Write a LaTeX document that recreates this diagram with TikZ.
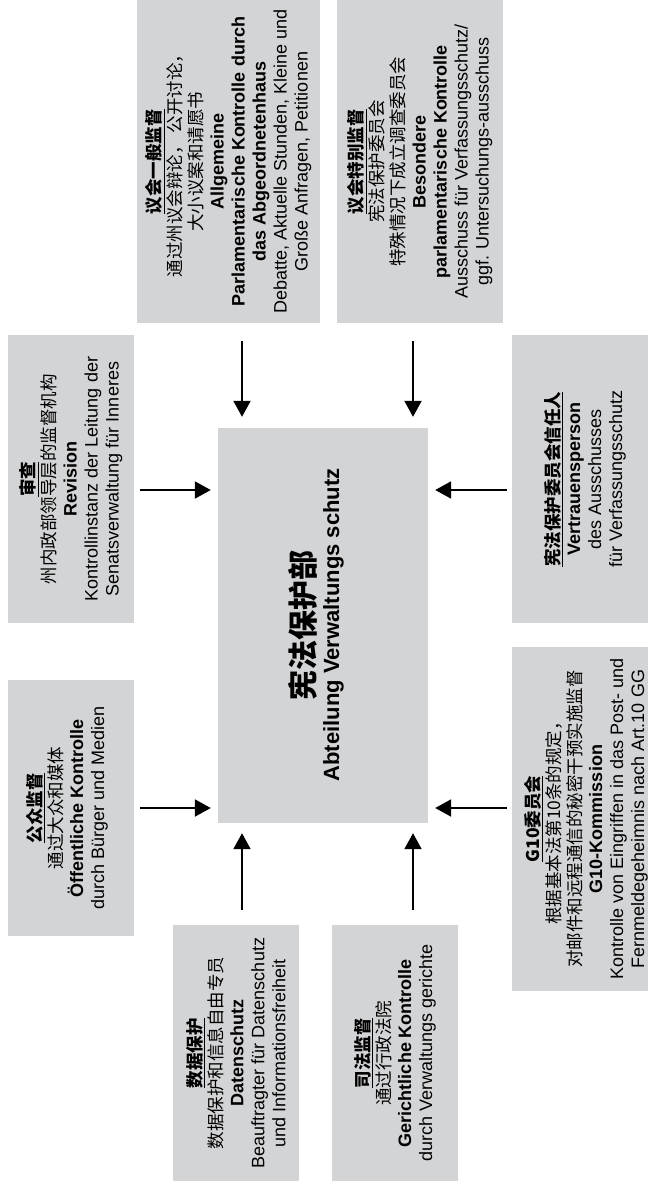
\documentclass[tikz,border=0pt]{standalone}
\usepackage{fontspec}
\setmainfont{Liberation Sans}
\newfontfamily\cjk{Noto Sans CJK SC}
\usetikzlibrary{arrows.meta}
\definecolor{boxgray}{RGB}{211,212,214}
\newcommand\zh[1]{{\cjk\fontsize{17.5}{21}\selectfont #1}}
\newcommand\zhh[1]{{\cjk\bfseries\fontsize{17.5}{21}\selectfont\underline{#1}}}
\newcommand\de[1]{{\bfseries #1}}
\begin{document}
\begin{tikzpicture}[x=1pt,y=-1pt,
  box/.style={fill=boxgray, draw=none, inner sep=0pt},
  lbl/.style={rotate=90, align=center, inner sep=0pt, font=\fontsize{18}{21}\selectfont},
  arr/.style={line width=2pt, -{Triangle[length=16pt,width=17pt]}}]
\useasboundingbox (0,0) rectangle (653,1184);
% boxes
\node[box, minimum width=183pt, minimum height=323pt] (allg) at (228.5,161.5) {};
\node[box, minimum width=166pt, minimum height=323pt] (bes) at (420,161.5) {};
\node[box, minimum width=126pt, minimum height=288pt] (rev) at (71,479) {};
\node[box, minimum width=136pt, minimum height=288pt] (ver) at (580,479) {};
\node[box, minimum width=126pt, minimum height=256pt] (oef) at (71,808) {};
\node[box, minimum width=136pt, minimum height=344pt] (g10) at (580,819) {};
\node[box, minimum width=126pt, minimum height=256pt] (dat) at (236,1053) {};
\node[box, minimum width=126pt, minimum height=256pt] (ger) at (395,1053) {};
\node[box, minimum width=210pt, minimum height=395pt] (ctr) at (323,625.5) {};
% labels
\node[lbl] (tallg) at (allg.center) {\zhh{议会一般监督}\\ \zh{通过州议会辩论， 公开讨论，}\\ \zh{大小议案和请愿书}\\ \de{Allgemeine}\\ \de{Parlamentarische Kontrolle durch}\\ \de{das Abgeordnetenhaus}\\ Debatte, Aktuelle Stunden, Kleine und\\ Große Anfragen, Petitionen};
\node[lbl] (tbes) at (bes.center) {\zhh{议会特别监督}\\ \zh{宪法保护委员会}\\ \zh{特殊情况下成立调查委员会}\\ \de{Besondere}\\ \de{parlamentarische Kontrolle}\\ Ausschuss für Verfassungsschutz/\\ ggf. Untersuchungs-ausschuss};
\node[lbl] (trev) at (rev.center) {\zhh{审查}\\ \zh{州内政部领导层的监督机构}\\ \de{Revision}\\ Kontrollinstanz der Leitung der\\ Senatsverwaltung für Inneres};
\node[lbl] (tver) at (585,479) {\zhh{宪法保护委员会信任人}\\ \de{Vertrauensperson}\\ des Ausschusses\\ für Verfassungsschutz};
\node[lbl] (toef) at (67,808) {\zhh{公众监督}\\ \zh{通过大众和媒体}\\ \de{Öffentliche Kontrolle}\\ durch Bürger und Medien};
\node[lbl] (tg10) at (586,819) {\zhh{G10委员会}\\ \zh{根据基本法第10条的规定，}\\ \zh{对邮件和远程通信的秘密干预实施监督}\\ \de{G10-Kommission}\\ Kontrolle von Eingriffen in das Post- und\\ Fernmeldegeheimnis nach Art.10 GG};
\node[lbl] (tdat) at (dat.center) {\zhh{数据保护}\\ \zh{数据保护和信息自由专员}\\ \de{Datenschutz}\\ Beauftragter für Datenschutz\\ und Informationsfreiheit};
\node[lbl] (tger) at (ger.center) {\zhh{司法监督}\\ \zh{通过行政法院}\\ \de{Gerichtliche Kontrolle}\\ durch Verwaltungs gerichte};
\node[lbl] (tctr) at (316,625) {{\cjk\bfseries\fontsize{30}{30}\selectfont 宪法保护部}\\[4pt] {\bfseries\fontsize{22}{24}\selectfont Abteilung Verwaltungs schutz}};
% arrow guide coordinates
\coordinate (c1) at (242,0);
\coordinate (c2) at (413,0);
\coordinate (r1) at (0,490);
\coordinate (r2) at (0,808);
% arrows
\draw[arr, shorten <=18pt, shorten >=11pt] (allg.south -| c1) -- (ctr.north -| c1);
\draw[arr, shorten <=18pt, shorten >=11pt] (bes.south -| c2) -- (ctr.north -| c2);
\draw[arr, shorten <=6pt, shorten >=7pt] (rev.east |- r1) -- (ctr.west |- r1);
\draw[arr, shorten <=6pt, shorten >=7pt] (oef.east |- r2) -- (ctr.west |- r2);
\draw[arr, shorten <=5pt, shorten >=7pt] (ver.west |- r1) -- (ctr.east |- r1);
\draw[arr, shorten <=5pt, shorten >=7pt] (g10.west |- r2) -- (ctr.east |- r2);
\draw[arr, shorten <=15pt, shorten >=10pt] (dat.north -| c1) -- (ctr.south -| c1);
\draw[arr, shorten <=15pt, shorten >=10pt] (ger.north -| c2) -- (ctr.south -| c2);
\end{tikzpicture}
\end{document}
